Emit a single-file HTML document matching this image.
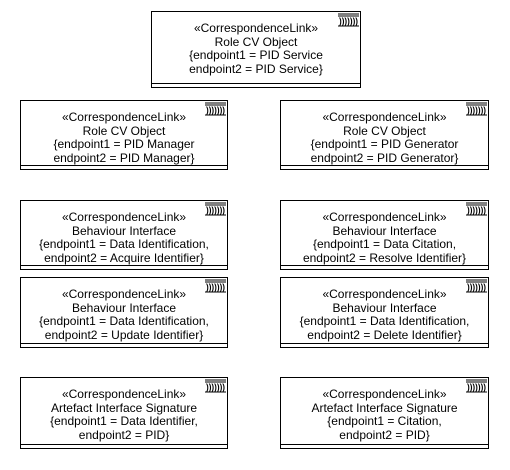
<!DOCTYPE html>
<html><head><meta charset="utf-8"><style>
html,body{margin:0;padding:0;background:#fff;width:510px;height:470px;overflow:hidden;position:relative}
.b{position:absolute;border:1px solid #000;box-sizing:border-box;background:#fff;font-family:"Liberation Sans",Arial,sans-serif;font-size:12px;line-height:13.5px;color:#000;text-align:center}
.b .t{position:absolute;left:0;right:0;top:10px}
.b .d{position:absolute;left:0;right:0;bottom:3px;border-top:1px solid #000}
.ic{position:absolute;right:1px;top:1px;width:21px;height:14px}
</style></head><body>
<script>
const boxes=[
[151,11,210,77,["Role CV Object","{endpoint1 = PID Service","endpoint2 = PID Service}"]],
[20,100,208,70,["Role CV Object","{endpoint1 = PID Manager","endpoint2 = PID Manager}"]],
[280,100,209,70,["Role CV Object","{endpoint1 = PID Generator","endpoint2 = PID Generator}"]],
[20,200,208,70,["Behaviour Interface","{endpoint1 = Data Identification,","endpoint2 = Acquire Identifier}"]],
[280,200,209,70,["Behaviour Interface","{endpoint1 = Data Citation,","endpoint2 = Resolve Identifier}"]],
[20,277,208,71,["Behaviour Interface","{endpoint1 = Data Identification,","endpoint2 = Update Identifier}"]],
[280,277,209,71,["Behaviour Interface","{endpoint1 = Data Identification,","endpoint2 = Delete Identifier}"]],
[20,377,208,72,["Artefact Interface Signature","{endpoint1 = Data Identifier,","endpoint2 = PID}"]],
[280,377,209,72,["Artefact Interface Signature","{endpoint1 = Citation,","endpoint2 = PID}"]]];
let h="";
const icon='<svg class="ic" viewBox="0 0 21 14"><line x1="0" y1="1" x2="21" y2="1" stroke="#000"/><line x1="0" y1="3" x2="21" y2="3" stroke="#000"/><text x="10.5" y="11" font-family="Liberation Sans" font-size="9" font-weight="bold" text-anchor="middle" textLength="19" lengthAdjust="spacingAndGlyphs">)))))))</text><line x1="0" y1="13" x2="21" y2="13" stroke="#000"/></svg>';
for(const [x,y,w,hh,l] of boxes){
h+=`<div class="b" style="left:${x}px;top:${y}px;width:${w}px;height:${hh}px">${icon}<div class="t">«CorrespondenceLink»<br>${l.join("<br>")}</div><div class="d"></div></div>`;}
document.write(h);
</script>
</body></html>
